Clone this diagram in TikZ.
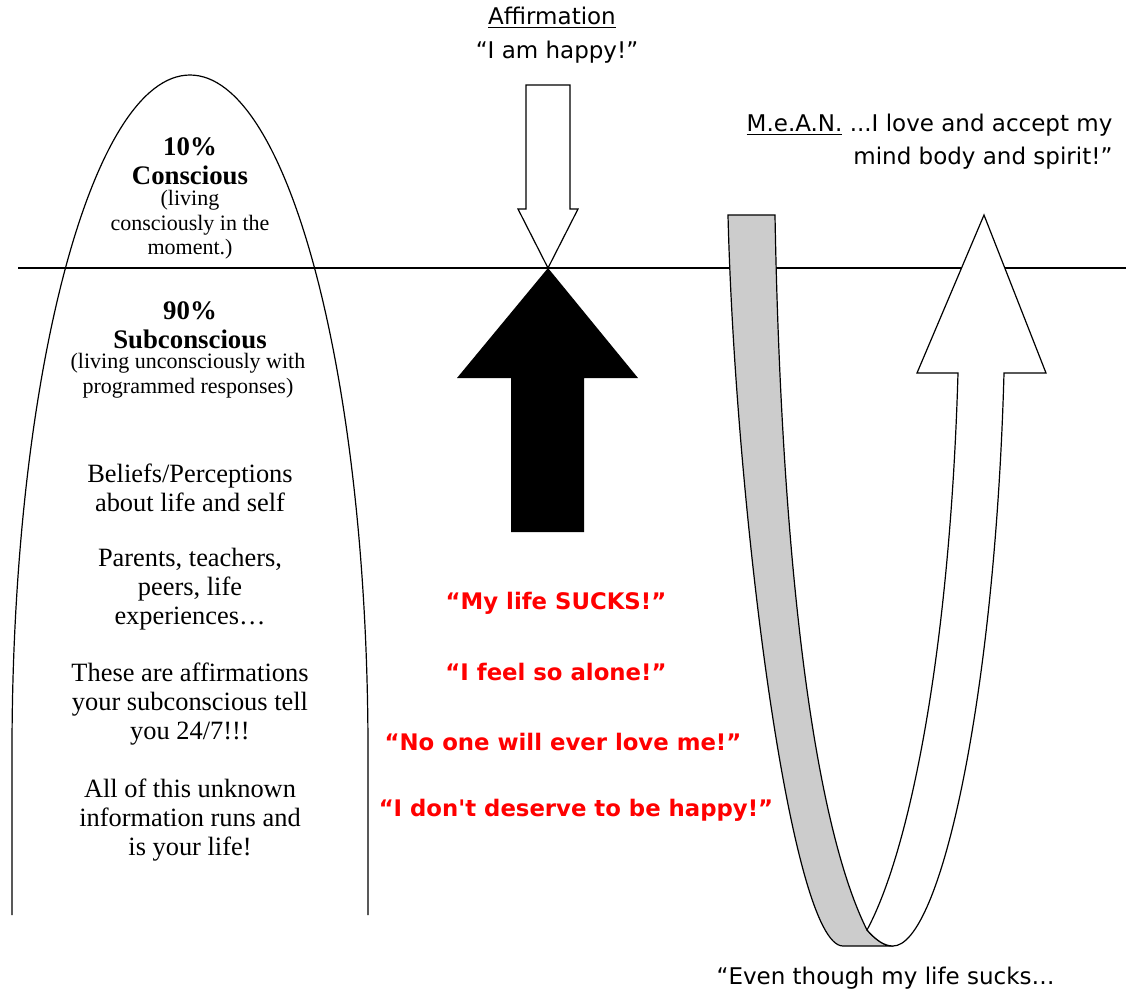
\documentclass[tikz,border=0pt]{standalone}
\usepackage{fontspec}
\setmainfont{Liberation Serif}
\newfontfamily\comic{DejaVu Sans}
\usepackage{tikz}
\usetikzlibrary{positioning}

\begin{document}
\begin{tikzpicture}[
  x=0.5pt, y=-0.5pt, line width=0.6pt, line join=miter,
  hd/.style={font=\fontsize{13.4}{14.5}\selectfont\bfseries, align=center, inner sep=0pt},
  sub/.style={font=\fontsize{11}{12.3}\selectfont, align=center, inner sep=0pt},
  body/.style={font=\fontsize{13.2}{14.5}\selectfont, align=center, inner sep=0pt},
  cs/.style={font=\comic\fontsize{11.5}{16.5}\selectfont, inner sep=0pt},
  neg/.style={font=\comic\bfseries\fontsize{11.4}{12}\selectfont, text=red, inner sep=0pt}
]
\useasboundingbox (0,0) rectangle (1126,993);

% dividing line
\draw (18,268) -- (1126,268);

% left arch
\draw (12,915) -- (12,751) arc[start angle=180, end angle=360, x radius=178, y radius=676] -- (368,915);

\node[hd] (pct10) at (190,161) {10\%\\Conscious};
\node[sub] (con) at (190,225) {(living\\consciously in the\\moment.)};
\node[hd] (pct90) at (190,325) {90\%\\Subconscious};
\node[sub] (sub) at (188,376) {(living unconsciously with\\programmed responses)};
\node[body] (bel) at (190,488) {Beliefs/Perceptions\\about life and self};
\node[body] (par) at (190,589) {Parents, teachers,\\peers, life\\experiences\ldots};
\node[body] (aff) at (190,704) {These are affirmations\\your subconscious tell\\you 24/7!!!};
\node[body] (all) at (190,820) {All of this unknown\\information runs and\\is your life!};

% affirmation arrow
\node[cs] (afft) at (552,18) {\underline{Affirmation}};
\node[cs] (hap) at (557,52) {“I am happy!”};
\draw[fill=white] (526,85) -- (570,85) -- (570,209) -- (578,209) -- (548,268)
  -- (518,209) -- (526,209) -- cycle;
\fill (548,268) -- (638,378) -- (584,378) -- (584,532) -- (511,532)
  -- (511,378) -- (457,378) -- cycle;

% red self-talk
\node[neg] (n1) at (556,603) {“My life SUCKS!”};
\node[neg] (n2) at (556,672) {“I feel so alone!”};
\node[neg] (n3) at (563,742) {“No one will ever love me!”};
\node[neg] (n4) at (576,810) {“I don't deserve to be happy!”};

% u-turn ribbon
\draw[fill=black!20] (728,215) -- (775,215) .. controls (781,550) and (812,820) .. (867,930)
  .. controls (876,940) and (884,946) .. (893,946) -- (843,946)
  .. controls (790,946) and (735,500) .. cycle;
\draw[fill=white] (893,946) .. controls (940,946) and (995,700) .. (1004,373)
  -- (1046,373) -- (984,215) -- (917,373) -- (958,373)
  .. controls (950,650) and (910,850) .. (867,930)
  .. controls (876,940) and (884,946) .. cycle;

\node[cs, anchor=north east, align=right] (mean) at (1113,113) {\underline{M.e.A.N.} ...I love and accept my\\mind body and spirit!”};
\node[cs, anchor=west] (even) at (716,978) {“Even though my life sucks…};
\end{tikzpicture}
\end{document}
